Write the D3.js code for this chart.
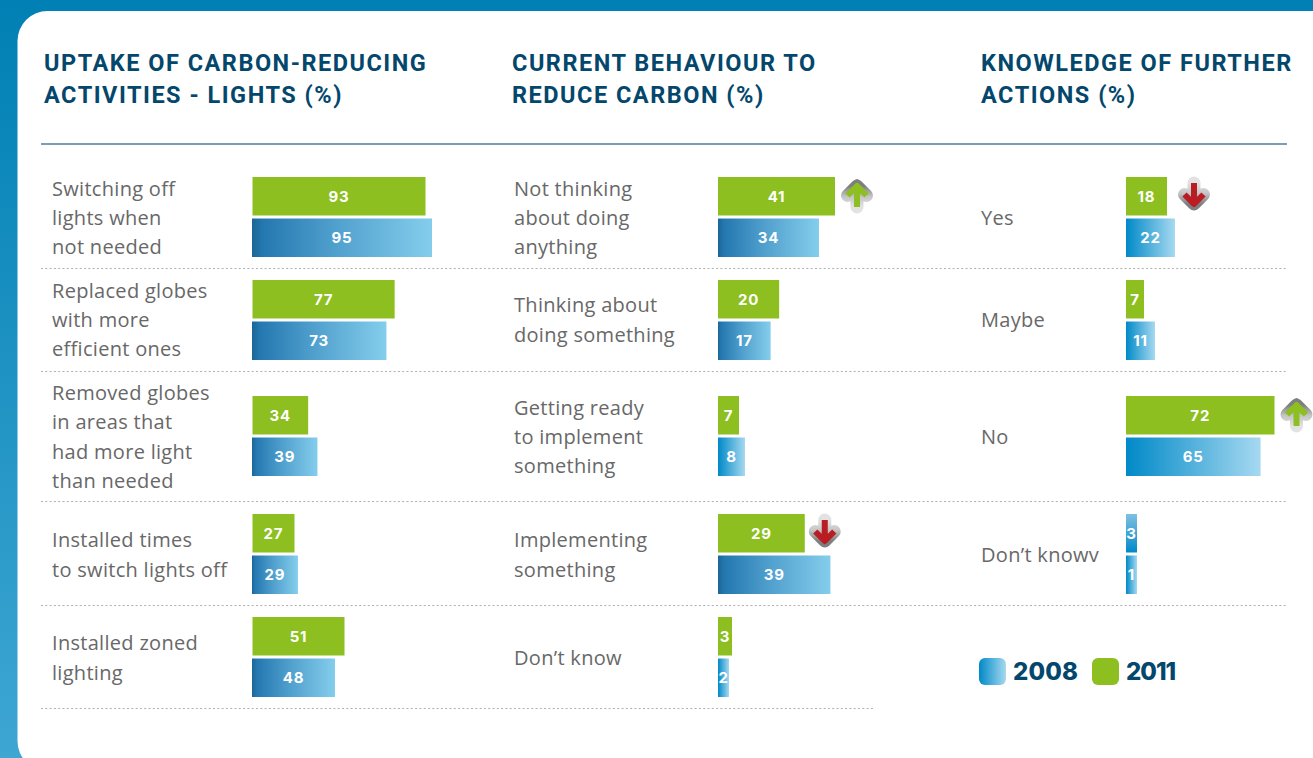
<!DOCTYPE html>
<html>
<head>
<meta charset="utf-8">
<script src="https://cdn.jsdelivr.net/npm/d3@7"></script>
<style>
  html, body { margin: 0; padding: 0; background: #fff; overflow: hidden; }
  .title { font-family: Roboto, sans-serif; font-weight: 700; font-size: 23.5px; letter-spacing: 1.5px; fill: #04476c; }
  .label { font-family: "Open Sans", sans-serif; font-size: 20px; letter-spacing: 0.3px; fill: #686868; }
  .value { font-family: Inter, sans-serif; font-weight: 700; font-size: 15px; letter-spacing: 0.8px; fill: #fff; text-anchor: middle; }
  .legend { font-family: Inter, sans-serif; font-weight: 800; font-size: 24px; fill: #04476c; }
</style>
</head>
<body>
<svg id="chart" width="1313" height="758"></svg>
<script>
// chart values
const years = ['2011', '2008'];

const lightsTitle = ['UPTAKE OF CARBON-REDUCING', 'ACTIVITIES - LIGHTS (%)'];
const lightsCategories = [
  ['Switching off', 'lights when', 'not needed'],
  ['Replaced globes', 'with more', 'efficient ones'],
  ['Removed globes', 'in areas that', 'had more light', 'than needed'],
  ['Installed times', 'to switch lights off'],
  ['Installed zoned', 'lighting']
];
const lights2011 = [93, 77, 34, 27, 51];
const lights2008 = [95, 73, 39, 29, 48];

const behaviourTitle = ['CURRENT BEHAVIOUR TO', 'REDUCE CARBON (%)'];
const behaviourCategories = [
  ['Not thinking', 'about doing', 'anything'],
  ['Thinking about', 'doing something'],
  ['Getting ready', 'to implement', 'something'],
  ['Implementing', 'something'],
  ['Don’t know']
];
const behaviour2011 = [41, 20, 7, 29, 3];
const behaviour2008 = [34, 17, 8, 39, 2];
const behaviourArrows = [[0, 'up'], [3, 'down']];

const knowledgeTitle = ['KNOWLEDGE OF FURTHER', 'ACTIONS (%)'];
const knowledgeCategories = [['Yes'], ['Maybe'], ['No'], ['Don’t knowv']];
const knowledge2011 = [18, 7, 72, 3];
const knowledge2008 = [22, 11, 65, 1];
const knowledgeArrows = [[0, 'down'], [2, 'up']];

// layout
const rowTops = [177, 280, 396, 514, 617];
const rowCentres = [218, 320, 437, 555, 658];
const separators = [268, 371, 501, 605];
const barHeight = 38.5;

const svg = d3.select('#chart');
const defs = svg.append('defs');

function gradient(id, stops, vertical) {
  const g = defs.append('linearGradient').attr('id', id)
    .attr('x1', 0).attr('y1', vertical ? 1 : 0)
    .attr('x2', vertical ? 0 : 1).attr('y2', 0);
  stops.forEach(([o, c]) => g.append('stop').attr('offset', o).attr('stop-color', c));
}
gradient('bg', [[0, '#3ea6d3'], [1, '#0080b4']], true);
gradient('blueDark', [[0, '#1c6696'], [0.06, '#2478b0'], [0.45, '#4f9fcd'], [1, '#84cdec']]);
gradient('blueBright', [[0, '#0089c8'], [1, '#a6d9f0']]);
gradient('blueUp', [[0, '#0089c8'], [1, '#7fc0e2']], true);
gradient('halo', [[0, '#e2e2e2'], [0.5, '#c4c4c4'], [1, '#7e7e7e']], true);

// background and the white card
svg.append('rect').attr('width', 1313).attr('height', 758).attr('fill', 'url(#bg)');
svg.append('rect').attr('x', 17.5).attr('y', 11).attr('width', 1340).attr('height', 760)
  .attr('rx', 30).attr('fill', '#fff');

// header rule and the dotted row lines
svg.append('line').attr('x1', 41).attr('x2', 1287).attr('y1', 144).attr('y2', 144)
  .attr('stroke', '#4d7c9a').attr('stroke-width', 1.4);
svg.selectAll('.sep').data(separators).enter().append('line')
  .attr('class', 'sep')
  .attr('x1', 41).attr('x2', 1286)
  .attr('y1', d => d + 0.5).attr('y2', d => d + 0.5)
  .attr('stroke', '#b0b0b0').attr('stroke-dasharray', '2 2.3');
svg.append('line').attr('x1', 41).attr('x2', 873).attr('y1', 708.5).attr('y2', 708.5)
  .attr('stroke', '#b0b0b0').attr('stroke-dasharray', '2 2.3');

// arrow drawn pointing up around its own centre, rotated for the down ones
const arrowPath = 'M0,12 L0,-9 M-9.5,0.5 L0,-9 L9.5,0.5';

/**
 * draws one of the three columns
 *
 * opts.x, opts.titleX, opts.labelX - left edges
 * opts.scale - the value to bar width scale
 * opts.fill2008 - picks the gradient for a 2008 bar
 */
function drawPanel(opts) {
  const g = svg.append('g');
  const rowY = d3.scaleOrdinal().domain(d3.range(5)).range(rowTops);
  const serieY = d3.scaleOrdinal().domain(years).range([0, 41.5]);

  g.selectAll('.title').data(opts.title).enter().append('text')
    .attr('class', 'title')
    .attr('x', opts.titleX)
    .attr('y', (d, i) => 71 + i * 32)
    .text(d => d);

  opts.categories.forEach((lines, row) => {
    g.selectAll(null).data(lines).enter().append('text')
      .attr('class', 'label')
      .attr('x', opts.labelX)
      .attr('y', (d, i) => rowCentres[row] + 7 + (i - (lines.length - 1) / 2) * 29.4)
      .text(d => d);
  });

  const rows = opts.categories.map((c, i) => i);
  const series = [
    {year: '2011', values: opts.v2011, dx: opts.greenDx || 0},
    {year: '2008', values: opts.v2008, dx: 0}
  ];
  series.forEach(s => {
    const bars = g.selectAll(null).data(rows).enter().append('g')
      .attr('transform', r => `translate(${opts.x + s.dx},${rowY(r) + serieY(s.year)})`);
    bars.append('rect')
      .attr('width', r => opts.scale(s.values[r]))
      .attr('height', barHeight)
      .attr('fill', r => (s.year === '2011' ? opts.fill2011(r) : opts.fill2008(r)));
    bars.append('text')
      .attr('class', 'value')
      .attr('x', r => opts.scale(s.values[r]) / 2)
      .attr('y', barHeight / 2 + 5.7)
      .text(r => s.values[r]);
  });

  (opts.arrows || []).forEach(([row, dir]) => {
    const gap = opts.arrowGaps[dir];
    const a = g.append('g')
      .attr('fill', 'none').attr('stroke-linejoin', 'round')
      .attr('transform',
        `translate(${opts.x + opts.scale(opts.v2011[row]) + gap},${rowY(row) + 18})${dir === 'down' ? ' rotate(180)' : ''}`);
    a.append('path').attr('d', arrowPath)
      .attr('stroke', 'url(#halo)').attr('stroke-width', 13).attr('stroke-linecap', 'round');
    a.append('path').attr('d', arrowPath)
      .attr('stroke', dir === 'up' ? '#8cbf1f' : '#b91c22').attr('stroke-width', 6);
  });
}

const green = () => '#8cbf1f';

drawPanel({
  title: lightsTitle, titleX: 44, labelX: 52, x: 252, greenDx: 0.5,
  categories: lightsCategories, v2011: lights2011, v2008: lights2008,
  scale: d3.scaleLinear().domain([27, 48, 51, 93, 95]).range([42, 83, 92, 173, 180]),
  fill2011: green, fill2008: () => 'url(#blueDark)'
});

drawPanel({
  title: behaviourTitle, titleX: 512, labelX: 514, x: 718,
  categories: behaviourCategories, v2011: behaviour2011, v2008: behaviour2008,
  arrows: behaviourArrows, arrowGaps: {up: 22, down: 20},
  scale: d3.scaleLinear().domain([2, 3, 7, 8, 34, 41]).range([11, 14, 21, 27, 101, 117]),
  fill2011: green,
  fill2008: r => (behaviour2008[r] < 10 ? 'url(#blueBright)' : 'url(#blueDark)')
});

drawPanel({
  title: knowledgeTitle, titleX: 981, labelX: 981, x: 1126,
  categories: knowledgeCategories, v2011: knowledge2011, v2008: knowledge2008,
  arrows: knowledgeArrows, arrowGaps: {up: 22, down: 27},
  // the smallest bars are held at a minimum width wide enough for their number
  scale: d3.scaleLinear().domain([1, 3, 7, 11, 18, 72]).range([11, 11, 18, 29, 41, 148.5]),
  fill2011: r => (knowledge2011[r] < 5 ? 'url(#blueUp)' : '#8cbf1f'),
  fill2008: () => 'url(#blueBright)'
});

// legend
const legendItems = [
  {year: '2008', x: 979, fill: 'url(#blueBright)', spacing: 0.2},
  {year: '2011', x: 1092, fill: '#8cbf1f', spacing: -1}
];
const legend = svg.selectAll('.legend-item').data(legendItems).enter().append('g')
  .attr('class', 'legend-item')
  .attr('transform', d => `translate(${d.x},658)`);
legend.append('rect').attr('width', 27).attr('height', 27).attr('rx', 6).attr('fill', d => d.fill);
legend.append('text').attr('class', 'legend').attr('x', 34).attr('y', 22)
  .style('letter-spacing', d => `${d.spacing}px`)
  .text(d => d.year);
</script>
</body>
</html>
